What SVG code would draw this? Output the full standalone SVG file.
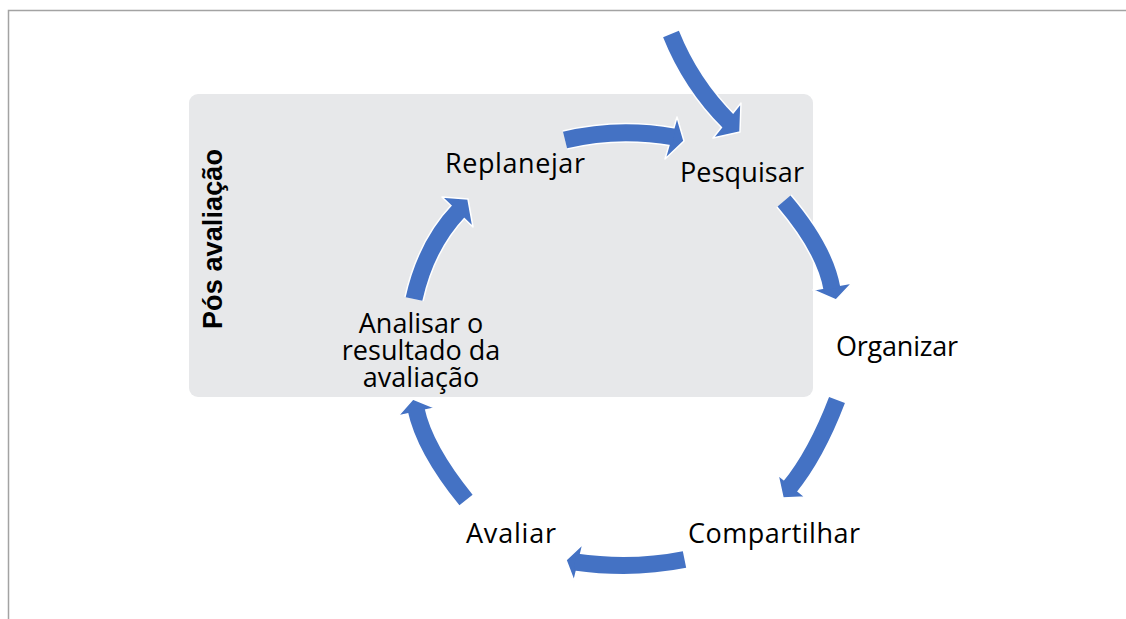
<svg xmlns="http://www.w3.org/2000/svg" width="1126" height="619" viewBox="0 0 1126 619">
<style>
.frame{fill:none;stroke:#a3a3a3;stroke-width:1.5}
.panel{fill:#e7e8ea}
.uo{fill:none;stroke:#ffffff;stroke-width:20}
.sh{fill:none;stroke:#4472c4;stroke-width:17}
.hd{fill:#4472c4;stroke:#ffffff;stroke-width:1.5;stroke-linejoin:round}
.lbl{font-family:"Open Sans","Noto Sans",sans-serif;font-size:27px;fill:#000}
.side{font-family:"Liberation Sans",Arial,sans-serif;font-size:27px;font-weight:bold;fill:#000}
</style>
<rect x="0" y="0" width="1126" height="619" fill="#ffffff"/>
<path class="frame" d="M8.5,619 V10.5 H1126"/>
<g id="pos-avaliacao">
<rect class="panel" x="189" y="94" width="624" height="303" rx="9"/>
<text class="side" transform="translate(222,329) rotate(-90)" textLength="180">Pós avaliação</text>
</g>
<g id="connectors">
<path class="uo" d="M671,34 Q691,84 729,122"/>
<path class="uo" d="M565,140 Q618,127 674,137"/>
<path class="uo" d="M784,201 Q825,249 832,289"/>
<path class="uo" d="M837,400 Q816,455 789,488"/>
<path class="uo" d="M684.5,559.5 Q632,570 575,562"/>
<path class="uo" d="M466,500 Q424.5,449 416,409"/>
<path class="uo" d="M414,299 Q426,245 459.5,210"/>
<polygon class="hd" points="741,103 740,132 713,138"/>
<polygon class="hd" points="677,117 684,141 665,159"/>
<polygon class="hd" points="813,290 836,300 852,283"/>
<polygon class="hd" points="778,475 783,498 805,497"/>
<polygon class="hd" points="583,544 566,560 574,581"/>
<polygon class="hd" points="398,416 413,399 435,408"/>
<polygon class="hd" points="442,197 468,199 473,227"/>
<path class="sh" d="M671,34 Q691,84 729,122"/>
<path class="sh" d="M565,140 Q618,127 674,137"/>
<path class="sh" d="M784,201 Q825,249 832,289"/>
<path class="sh" d="M837,400 Q816,455 789,488"/>
<path class="sh" d="M684.5,559.5 Q632,570 575,562"/>
<path class="sh" d="M466,500 Q424.5,449 416,409"/>
<path class="sh" d="M414,299 Q426,245 459.5,210"/>
</g>
<g id="replanejar"><text class="lbl" x="445" y="173" textLength="140">Replanejar</text></g>
<g id="pesquisar"><text class="lbl" x="680" y="182" textLength="124">Pesquisar</text></g>
<g id="organizar"><text class="lbl" x="836" y="356" textLength="122">Organizar</text></g>
<g id="compartilhar"><text class="lbl" x="688" y="543" textLength="172">Compartilhar</text></g>
<g id="avaliar"><text class="lbl" x="466" y="543" textLength="90">Avaliar</text></g>
<g id="analisar">
<text class="lbl" text-anchor="middle"><tspan x="421" y="333">Analisar o</tspan><tspan x="421" y="360">resultado da</tspan><tspan x="421" y="387">avaliação</tspan></text>
</g>
</svg>
